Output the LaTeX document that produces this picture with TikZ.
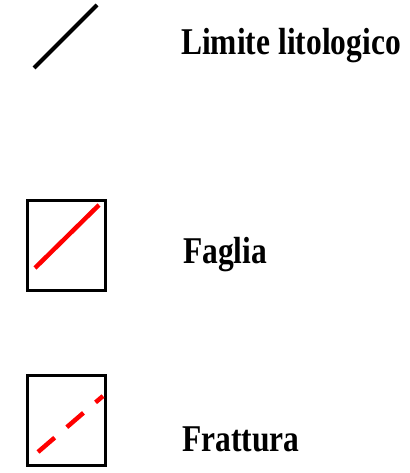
\documentclass[tikz,border=0pt]{standalone}
\usepackage{fontspec}
\setmainfont{Liberation Serif}
\newcommand\tallText[1]{\scalebox{1}[1.2]{#1}}
\tikzset{
  legendLabel/.style={
    anchor=base west,
    inner sep=0pt,
    font=\bfseries\fontsize{31.5}{37}\selectfont
  },
  symbolBox/.style={
    draw,
    line width=3pt,
    minimum width=78pt,
    minimum height=90pt,
    inner sep=0pt
  },
  contactLine/.style={line width=4.2pt},
  faultLine/.style={red, line width=4.5pt},
  fractureLine/.style={
    faultLine,
    dash pattern=on 22pt off 16pt
  }
}

\begin{document}
\begin{tikzpicture}[x=1pt,y=-1pt]
    \useasboundingbox (0,0) rectangle (409,473);

    % limite litologico
    \coordinate (limA) at (34,68);
    \coordinate (limB) at (97,5);
    \draw[contactLine] (limA) -- (limB);
    \node[legendLabel] (limLabel) at (181,55) {\tallText{Limite litologico}};

    % faglia
    \node[symbolBox] (fagliaBox) at (66.5,245.5) {};
    \coordinate (fagA) at (35,268);
    \coordinate (fagB) at (99,205);
    \draw[faultLine] (fagA) -- (fagB);
    \node[legendLabel] (fagLabel) at (183,263) {\tallText{Faglia}};

    % frattura
    \node[symbolBox] (fratBox) at (66.5,420.5) {};
    \coordinate (fraA) at (38,452);
    \coordinate (fraB) at (103,396);
    \draw[fractureLine] (fraA) -- (fraB);
    \node[legendLabel] (fraLabel) at (182,451) {\tallText{Frattura}};
  \end{tikzpicture}
\end{document}
